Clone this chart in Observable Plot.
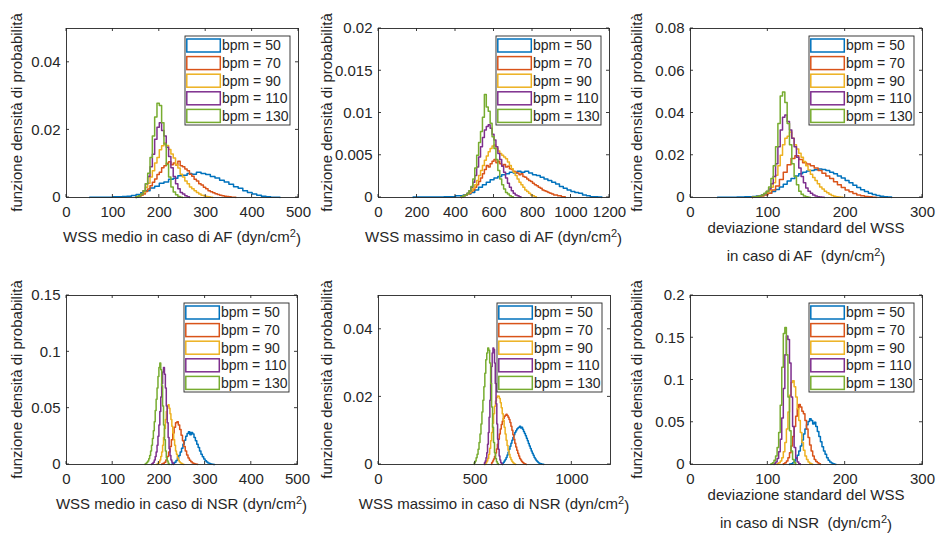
<!DOCTYPE html>
<html><head><meta charset="utf-8">
<script src="https://cdn.jsdelivr.net/npm/d3@7"></script>
<script src="https://cdn.jsdelivr.net/npm/@observablehq/plot@0.6"></script>
<style>
body{margin:0;background:#fff;}
#root{position:relative;width:936px;height:534px;background:#fff;overflow:hidden;font-family:"Liberation Sans",Arial,sans-serif;}
#root svg{position:absolute;}
</style></head><body><div id="root"></div>
<script>
// ---------- data ----------
const bpm = [50, 70, 90, 110, 130];
const seriesColors = ["#0072BD", "#D95319", "#EDB120", "#7E2F8E", "#77AC30"];

// Panel 1: WSS medio, AF
const afMedioStart = [50, 150, 150, 150, 150];
const afMedioWidth = [10, 5, 5, 5, 5];
const afMedio50 = [0.0001,0.0001,0.0001,0.0001,0.0001,0.0002,0.0002,0.0003,0.0004,0.0006,0.0009,0.0014,0.002,0.0028,0.0033,0.0042,0.0046,0.0054,0.0057,0.0064,0.0066,0.0071,0.0069,0.0075,0.0071,0.0068,0.0062,0.0058,0.0051,0.0046,0.0039,0.0032,0.0027,0.002,0.0015,0.001,0.0007,0.0004,0.0002,0.0001,0.0001];
const afMedio70 = [0.0002,0.0004,0.0007,0.001,0.0018,0.0025,0.0035,0.0045,0.0055,0.0068,0.0075,0.0088,0.0094,0.0101,0.0106,0.0097,0.0102,0.0096,0.0107,0.0094,0.0091,0.0084,0.0079,0.0069,0.0063,0.0054,0.0049,0.0041,0.0037,0.003,0.0026,0.002,0.0017,0.0014,0.0011,0.0009,0.0007,0.0005,0.0004,0.0003,0.0002,0.0001,0.0001];
const afMedio90 = [0.0002,0.0004,0.0008,0.0015,0.003,0.0042,0.0061,0.0079,0.0102,0.0118,0.0141,0.0153,0.0161,0.0154,0.0142,0.0129,0.0117,0.0098,0.0087,0.0069,0.0061,0.0049,0.0041,0.0031,0.0026,0.002,0.0015,0.001,0.0007,0.0005,0.0003,0.0002,0.0001];
const afMedio110 = [0.0002,0.0005,0.001,0.002,0.0041,0.0062,0.0091,0.0128,0.0172,0.0208,0.0221,0.0198,0.0182,0.0149,0.0121,0.0088,0.0062,0.0041,0.0026,0.0015,0.001,0.0005,0.0002];
const afMedio130 = [0.0002,0.0005,0.001,0.002,0.0041,0.0072,0.0118,0.0182,0.0238,0.0279,0.0272,0.0221,0.0158,0.0098,0.0061,0.0031,0.0016,0.0008,0.0003,0.0001];

// Panel 2: WSS massimo, AF
const afMaxStart = [180, 430, 430, 430, 430];
const afMaxWidth = [20, 10, 10, 10, 10];
const afMax50 = [0.00005,0.00005,0.00005,0.00005,0.00005,0.00005,0.00005,0.00005,0.0001,0.0001,0.0001,0.0002,0.0002,0.0003,0.0004,0.0006,0.0009,0.0012,0.0015,0.0018,0.0021,0.0023,0.0025,0.0027,0.0028,0.003,0.0029,0.0031,0.003,0.0031,0.0029,0.0027,0.0026,0.0024,0.0022,0.002,0.0018,0.0016,0.0013,0.0011,0.0009,0.0007,0.0006,0.0005,0.0003,0.0002,0.0001,0.0001,0.00005];
const afMax70 = [0.0001,0.0002,0.0003,0.0004,0.0005,0.0007,0.0009,0.0012,0.0015,0.0019,0.0023,0.0028,0.0033,0.0038,0.0036,0.004,0.0043,0.0045,0.0041,0.0043,0.004,0.0038,0.0039,0.0036,0.0037,0.0034,0.0033,0.0031,0.003,0.0029,0.0027,0.0028,0.0025,0.0024,0.0022,0.002,0.0019,0.0017,0.0015,0.0014,0.0012,0.0011,0.0009,0.0008,0.0007,0.0006,0.0005,0.0004,0.0003,0.0003,0.0002,0.0002,0.0001,0.0001];
const afMax90 = [0.0001,0.0002,0.0003,0.0004,0.0006,0.0008,0.0011,0.0015,0.002,0.0026,0.0032,0.0038,0.0044,0.0049,0.0054,0.0058,0.0061,0.0062,0.0058,0.0055,0.0052,0.005,0.0048,0.0046,0.0042,0.0038,0.0034,0.003,0.0026,0.0022,0.0018,0.0015,0.0012,0.0009,0.0007,0.0005,0.0003,0.0002,0.0001];
const afMax110 = [0.0001,0.0002,0.0003,0.0005,0.0008,0.0012,0.0018,0.0026,0.0036,0.0048,0.006,0.0071,0.008,0.0084,0.0086,0.0082,0.0075,0.0068,0.006,0.0052,0.0045,0.0037,0.003,0.0023,0.0017,0.0012,0.0008,0.0005,0.0003,0.0002,0.0001];
const afMax130 = [0.0001,0.0002,0.0003,0.0005,0.0008,0.0013,0.0022,0.0035,0.005,0.0065,0.0078,0.0095,0.0122,0.0107,0.0102,0.0088,0.0072,0.0058,0.0045,0.0032,0.0022,0.0015,0.001,0.0006,0.0004,0.0002,0.0001];

// Panel 3: deviazione standard, AF
const afStdStart = [35, 80, 80, 80, 80];
const afStdWidth = [5, 5, 3, 3, 3];
const afStd50 = [0.0001,0.0001,0.0001,0.0001,0.0001,0.0002,0.0002,0.0003,0.0004,0.0005,0.0007,0.001,0.0014,0.002,0.0028,0.0038,0.005,0.0063,0.0078,0.009,0.0102,0.0112,0.012,0.0126,0.0128,0.0131,0.0135,0.0132,0.0128,0.012,0.0112,0.0102,0.0092,0.0081,0.007,0.0058,0.0047,0.0037,0.0028,0.002,0.0014,0.0009,0.0006,0.0003,0.0002];
const afStd70 = [0.0002,0.0004,0.0007,0.0012,0.002,0.0035,0.0055,0.0085,0.012,0.0155,0.0185,0.0198,0.018,0.0165,0.0158,0.015,0.014,0.0128,0.0115,0.0102,0.009,0.0075,0.006,0.0047,0.0036,0.0027,0.0019,0.0012,0.0008,0.0005,0.0003,0.0001];
const afStd90 = [0.0002,0.0003,0.0005,0.0007,0.001,0.0015,0.0022,0.0032,0.0048,0.007,0.0105,0.015,0.02,0.025,0.028,0.029,0.031,0.028,0.025,0.023,0.021,0.019,0.017,0.015,0.013,0.011,0.0095,0.008,0.0065,0.005,0.004,0.003,0.0022,0.0015,0.001,0.0006,0.0004,0.0002,0.0001];
const afStd110 = [0.0002,0.0003,0.0005,0.0008,0.0012,0.0018,0.0028,0.004,0.0065,0.01,0.016,0.024,0.032,0.038,0.039,0.036,0.032,0.028,0.024,0.019,0.014,0.01,0.007,0.0045,0.003,0.002,0.0012,0.0007,0.0004,0.0002,0.0001];
const afStd130 = [0.0002,0.0003,0.0005,0.0008,0.0012,0.002,0.003,0.005,0.009,0.015,0.024,0.035,0.048,0.05,0.045,0.035,0.025,0.016,0.01,0.006,0.003,0.0015,0.0007,0.0003,0.0001];

// Panel 4: WSS medio, NSR
const nsrMedioStart = [228, 206, 196, 184, 170];
const nsrMedioWidth = [3, 3, 2, 2, 2];
const nsrMedio50 = [0.0005,0.001,0.002,0.0035,0.0055,0.008,0.011,0.0145,0.018,0.0215,0.025,0.0275,0.029,0.0265,0.0285,0.027,0.024,0.021,0.018,0.015,0.012,0.0092,0.0068,0.0048,0.0033,0.0022,0.0014,0.0009,0.0005,0.0003,0.0001];
const nsrMedio70 = [0.0005,0.001,0.002,0.004,0.007,0.011,0.016,0.022,0.028,0.033,0.037,0.038,0.035,0.031,0.026,0.021,0.016,0.012,0.0085,0.0058,0.0038,0.0024,0.0014,0.0008,0.0004,0.0002];
const nsrMedio90 = [0.0005,0.001,0.002,0.004,0.007,0.011,0.017,0.024,0.032,0.04,0.047,0.052,0.053,0.05,0.045,0.04,0.034,0.028,0.022,0.017,0.012,0.009,0.006,0.004,0.0025,0.0015,0.001,0.0005,0.0003];
const nsrMedio110 = [0.0005,0.001,0.002,0.004,0.007,0.011,0.017,0.025,0.035,0.047,0.06,0.072,0.082,0.086,0.08,0.068,0.052,0.037,0.024,0.014,0.008,0.004,0.002,0.001];
const nsrMedio130 = [0.0005,0.001,0.002,0.003,0.005,0.008,0.012,0.017,0.023,0.03,0.038,0.048,0.058,0.068,0.078,0.086,0.09,0.084,0.07,0.052,0.035,0.022,0.012,0.006,0.003,0.001];

// Panel 5: WSS massimo, NSR
const nsrMaxStart = [640, 585, 555, 548, 495];
const nsrMaxWidth = [5, 5, 5, 4, 5];
const nsrMax50 = [0.0003,0.0006,0.001,0.0015,0.0021,0.0028,0.0036,0.0045,0.0054,0.0063,0.0072,0.008,0.0088,0.0095,0.01,0.0105,0.0108,0.011,0.0113,0.0108,0.011,0.0104,0.0098,0.0092,0.0085,0.0078,0.007,0.0062,0.0055,0.0047,0.004,0.0033,0.0027,0.0021,0.0016,0.0012,0.0009,0.0006,0.0004,0.0003,0.0002,0.0001,0.0001];
const nsrMax70 = [0.0005,0.001,0.0016,0.0024,0.0034,0.0046,0.006,0.0075,0.009,0.0105,0.0118,0.0128,0.0136,0.0142,0.0146,0.0149,0.0145,0.014,0.0133,0.0124,0.0113,0.0101,0.0088,0.0075,0.0063,0.0052,0.0042,0.0033,0.0025,0.0018,0.0013,0.0009,0.0006,0.0004,0.0002,0.0001];
const nsrMax90 = [0.0005,0.001,0.0018,0.003,0.0048,0.007,0.0095,0.0122,0.015,0.0172,0.0188,0.0198,0.0203,0.0202,0.0195,0.0183,0.0168,0.015,0.013,0.011,0.009,0.0072,0.0056,0.0042,0.003,0.0021,0.0014,0.0009,0.0005,0.0003,0.0001];
const nsrMax110 = [0.0005,0.001,0.002,0.0035,0.006,0.0095,0.014,0.019,0.024,0.029,0.033,0.0345,0.034,0.03,0.024,0.018,0.012,0.0075,0.0045,0.0025,0.0013,0.0006,0.0002];
const nsrMax130 = [0.0005,0.001,0.002,0.003,0.0045,0.0065,0.009,0.012,0.0155,0.019,0.023,0.027,0.031,0.033,0.0345,0.0338,0.03,0.024,0.017,0.011,0.0065,0.0035,0.0018,0.0008,0.0003];

// Panel 6: deviazione standard, NSR
const nsrStdStart = [128, 120, 112, 108, 104];
const nsrStdWidth = [2, 2, 2, 2, 2];
const nsrStd50 = [0.0005,0.001,0.002,0.004,0.007,0.011,0.016,0.022,0.029,0.036,0.042,0.047,0.051,0.054,0.052,0.048,0.05,0.045,0.039,0.033,0.027,0.021,0.016,0.012,0.008,0.005,0.003,0.0017,0.0008,0.0003];
const nsrStd70 = [0.001,0.002,0.004,0.008,0.014,0.022,0.033,0.045,0.057,0.066,0.071,0.068,0.063,0.06,0.052,0.042,0.032,0.023,0.016,0.01,0.006,0.0035,0.002,0.001];
const nsrStd90 = [0.001,0.002,0.004,0.008,0.015,0.026,0.042,0.062,0.082,0.097,0.099,0.092,0.08,0.066,0.052,0.038,0.026,0.017,0.01,0.006,0.003,0.0015,0.0007];
const nsrStd110 = [0.001,0.003,0.007,0.015,0.03,0.055,0.09,0.13,0.152,0.148,0.12,0.08,0.045,0.02,0.008,0.003,0.001];
const nsrStd130 = [0.001,0.002,0.005,0.01,0.02,0.038,0.07,0.115,0.155,0.162,0.13,0.08,0.04,0.016,0.006,0.002];

// axis ticks
const xTicksMedio = [0, 100, 200, 300, 400, 500];
const xTicksMaxAF = [0, 200, 400, 600, 800, 1000, 1200];
const xTicksMaxNSR = [0, 500, 1000];
const xTicksStd = [0, 100, 200, 300];
const yTicksP1 = [0, 0.02, 0.04];
const yTicksP2 = [0, 0.005, 0.01, 0.015, 0.02];
const yTicksP3 = [0, 0.02, 0.04, 0.06, 0.08];
const yTicksP4 = [0, 0.05, 0.1, 0.15];
const yTicksP5 = [0, 0.02, 0.04];
const yTicksP6 = [0, 0.05, 0.1, 0.15, 0.2];

const yLabel = "funzione densità di probabilità";

// ---------- layout ----------
const panels = [
  {left:0, top:0, width:310, mL:66, mR:12, xMax:500, yMax:0.05, xTicks:xTicksMedio, yTicks:yTicksP1,
   starts:afMedioStart, widths:afMedioWidth, series:[afMedio50,afMedio70,afMedio90,afMedio110,afMedio130],
   xlabel:["WSS medio in caso di AF (dyn/cm"]},
  {left:310, top:0, width:310, mL:68, mR:11, xMax:1200, yMax:0.02, xTicks:xTicksMaxAF, yTicks:yTicksP2,
   starts:afMaxStart, widths:afMaxWidth, series:[afMax50,afMax70,afMax90,afMax110,afMax130],
   xlabel:["WSS massimo in caso di AF (dyn/cm"]},
  {left:620, top:0, width:316, mL:70, mR:14, xMax:300, yMax:0.08, xTicks:xTicksStd, yTicks:yTicksP3,
   starts:afStdStart, widths:afStdWidth, series:[afStd50,afStd70,afStd90,afStd110,afStd130],
   xlabel:["deviazione standard del WSS", "in caso di AF  (dyn/cm"]},
  {left:0, top:267, width:310, mL:66, mR:13, xMax:500, yMax:0.15, xTicks:xTicksMedio, yTicks:yTicksP4,
   starts:nsrMedioStart, widths:nsrMedioWidth, series:[nsrMedio50,nsrMedio70,nsrMedio90,nsrMedio110,nsrMedio130],
   xlabel:["WSS medio in caso di NSR (dyn/cm"]},
  {left:310, top:267, width:310, mL:68, mR:10, xMax:1200, yMax:0.05, xTicks:xTicksMaxNSR, yTicks:yTicksP5,
   starts:nsrMaxStart, widths:nsrMaxWidth, series:[nsrMax50,nsrMax70,nsrMax90,nsrMax110,nsrMax130],
   xlabel:["WSS massimo in caso di NSR (dyn/cm"]},
  {left:620, top:267, width:316, mL:70, mR:14, xMax:300, yMax:0.2, xTicks:xTicksStd, yTicks:yTicksP6,
   starts:nsrStdStart, widths:nsrStdWidth, series:[nsrStd50,nsrStd70,nsrStd90,nsrStd110,nsrStd130],
   xlabel:["deviazione standard del WSS", "in caso di NSR  (dyn/cm"]}
];

const H = 267, MT = 28, MB = 70;
const ink = "#262626";
const root = document.getElementById("root");

panels.forEach(p => {
  const data = [];
  p.series.forEach((vals, k) => {
    const s = p.starts[k], w = p.widths[k];
    data.push({x: s, y: 0, bpm: bpm[k]});
    vals.forEach((v, i) => data.push({x: s + i * w, y: v, bpm: bpm[k]}));
    data.push({x: s + vals.length * w, y: 0, bpm: bpm[k]});
  });

  const chart = Plot.plot({
    width: p.width, height: H,
    marginLeft: p.mL, marginRight: p.mR, marginTop: MT, marginBottom: MB,
    style: {fontFamily: '"Liberation Sans", Arial, sans-serif', fontSize: "15px", color: ink, background: "transparent", overflow: "visible"},
    x: {domain: [0, p.xMax], ticks: p.xTicks, tickFormat: d => String(d)},
    y: {domain: [0, p.yMax], ticks: p.yTicks, tickFormat: d => String(d)},
    color: {type: "ordinal", domain: bpm, range: seriesColors},
    marks: [
      Plot.line(data, {x: "x", y: "y", z: "bpm", stroke: "bpm", curve: "step-after", strokeWidth: 1.5}),
      Plot.frame({stroke: ink, strokeWidth: 0.9}),
      Plot.axisX({ticks: p.xTicks, tickSize: 0, tickPadding: 9, tickFormat: d => String(d), label: null, fill: ink}),
      Plot.axisY({ticks: p.yTicks, tickSize: 0, tickPadding: 6, tickFormat: d => String(d), label: null, fill: ink})
    ]
  });
  chart.style.left = p.left + "px";
  chart.style.top = p.top + "px";
  root.appendChild(chart);

  const svg = d3.select(chart);
  const xs = chart.scale("x"), ys = chart.scale("y");
  const fl = p.mL, fr = p.width - p.mR, ft = MT, fb = H - MB;
  const tl = 3;
  const g = svg.append("g").attr("stroke", ink).attr("stroke-width", 0.9);
  p.xTicks.forEach(t => {
    const x = xs.apply(t);
    g.append("line").attr("x1", x).attr("x2", x).attr("y1", fb).attr("y2", fb - tl);
    g.append("line").attr("x1", x).attr("x2", x).attr("y1", ft).attr("y2", ft + tl);
  });
  p.yTicks.forEach(t => {
    const y = ys.apply(t);
    g.append("line").attr("y1", y).attr("y2", y).attr("x1", fl).attr("x2", fl + tl);
    g.append("line").attr("y1", y).attr("y2", y).attr("x1", fr).attr("x2", fr - tl);
  });

  // legend
  const lw = 105, lh = 89;
  const lg = svg.append("g").attr("transform", `translate(${fr - 8 - lw},${ft + 8})`);
  lg.append("rect").attr("width", lw).attr("height", lh).attr("fill", "#fff").attr("stroke", ink).attr("stroke-width", 0.9);
  bpm.forEach((b, k) => {
    const cy = 9.5 + k * 17.6;
    lg.append("rect").attr("x", 1.8).attr("y", cy - 6.5).attr("width", 33.5).attr("height", 13)
      .attr("fill", "none").attr("stroke", seriesColors[k]).attr("stroke-width", 1.5);
    lg.append("text").attr("x", 37).attr("y", cy).attr("dy", "0.35em").attr("text-anchor", "start")
      .attr("font-size", 14).attr("fill", ink).text(`bpm = ${b}`);
  });

  // x label
  const cx = (fl + fr) / 2;
  const lines = p.xlabel;
  const ys0 = lines.length === 1 ? [237] : [228, 256];
  lines.forEach((ln, i) => {
    const t = svg.append("text").attr("x", cx).attr("y", ys0[i]).attr("dy", "0.35em")
      .attr("text-anchor", "middle").attr("font-size", 15).attr("fill", ink)
      .style("white-space", "pre").attr("xml:space", "preserve");
    t.append("tspan").text(ln);
    if (i === lines.length - 1) {
      t.append("tspan").attr("dy", "-0.45em").attr("font-size", 11).text("2");
      t.append("tspan").attr("dy", "0.45em").text(")");
    }
  });

  // y label
  svg.append("text").attr("transform", `translate(17,${(ft + fb) / 2}) rotate(-90)`)
    .attr("text-anchor", "middle").attr("dy", "0.35em").attr("font-size", 15).attr("fill", ink).text(yLabel);
});
</script></body></html>
